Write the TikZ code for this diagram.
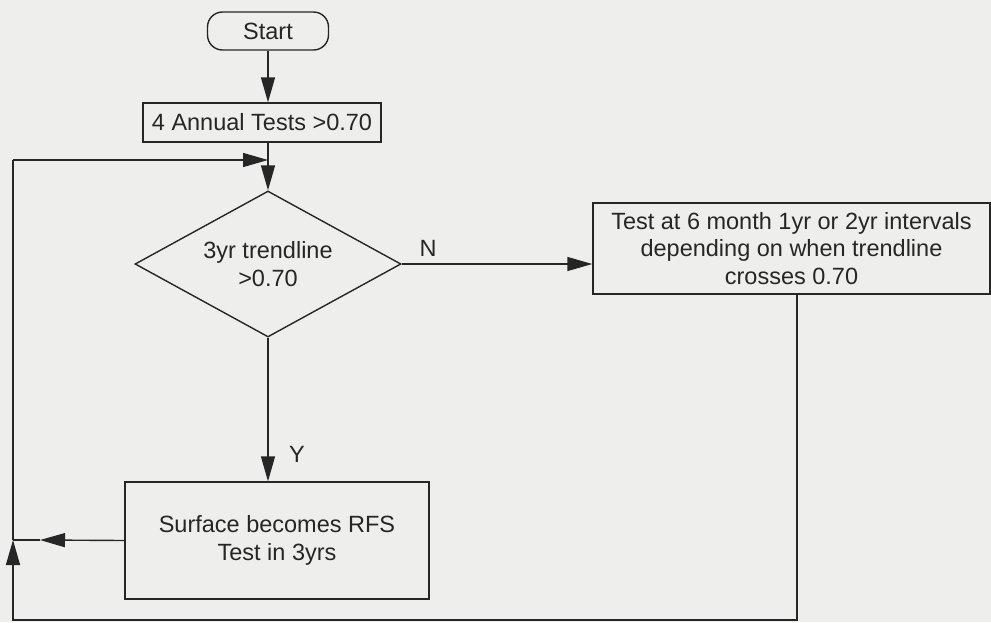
\documentclass[tikz,border=0pt]{standalone}
\usepackage{fontspec}
\setmainfont{Liberation Sans}
\usetikzlibrary{shapes.geometric,arrows.meta,calc}
\definecolor{bg}{RGB}{238,238,236}
\definecolor{ink}{RGB}{38,38,38}
\begin{document}
\begin{tikzpicture}[x=1pt,y=-1pt,
  font=\fontsize{23.5}{27.5}\selectfont,
  line width=1.4pt, text=ink,
  box/.style={draw=ink, rectangle, inner sep=0pt, align=center},
  lbl/.style={inner sep=0pt},
  tip/.style={draw=ink, -{Triangle[length=25pt,width=14pt]}},
  wire/.style={draw=ink}]
\fill[bg] (0,0) rectangle (991,622);
\useasboundingbox (0,0) rectangle (991,622);

\node[box, rounded corners=15pt, minimum width=121pt, minimum height=38pt] (start) at (268,31) {Start};
\node[box, minimum width=238pt, minimum height=39pt] (annual) at (262,122.5) {4 Annual Tests >0.70};
\node[diamond, shape aspect=1.8, draw=ink, inner sep=0pt, minimum width=266pt, minimum height=146pt, align=center] (dec) at (268,264) {3yr trendline\\>0.70};
\node[box, minimum width=397pt, minimum height=91pt] (interval) at (791.5,248.5) {Test at 6 month 1yr or 2yr intervals\\depending on when trendline\\crosses 0.70};
\node[box, minimum width=304pt, minimum height=117pt] (rfs) at (277,540.5) {Surface becomes RFS\\Test in 3yrs};

\node[lbl] (nlab) at (428,248) {N};
\node[lbl] (ylab) at (297,454) {Y};

\coordinate (jtop) at (268,160);
\coordinate (ctl) at (13,160);
\coordinate (jmid) at (13,540);
\coordinate (cbl) at (13,620);
\coordinate (cbr) at (797,620);
\coordinate (ltip) at (40,540);

\draw[tip] (start) -- (start |- annual.north);
\draw[tip] (annual.south -| dec.north) -- (dec.north);
\draw[tip] (ctl) -- (jtop);
\draw[tip] (dec.east) -- (dec.east -| interval.west);
\draw[tip] (dec.south) -- (rfs.north -| dec.south);
\draw[tip] (rfs.west) -- (ltip);
\draw[wire] (ltip) -- (jmid);
\draw[tip] (interval.south -| cbr) -- (cbr) -- (cbl) -- (jmid);
\draw[wire] (jmid) -- (ctl);
\end{tikzpicture}
\end{document}
